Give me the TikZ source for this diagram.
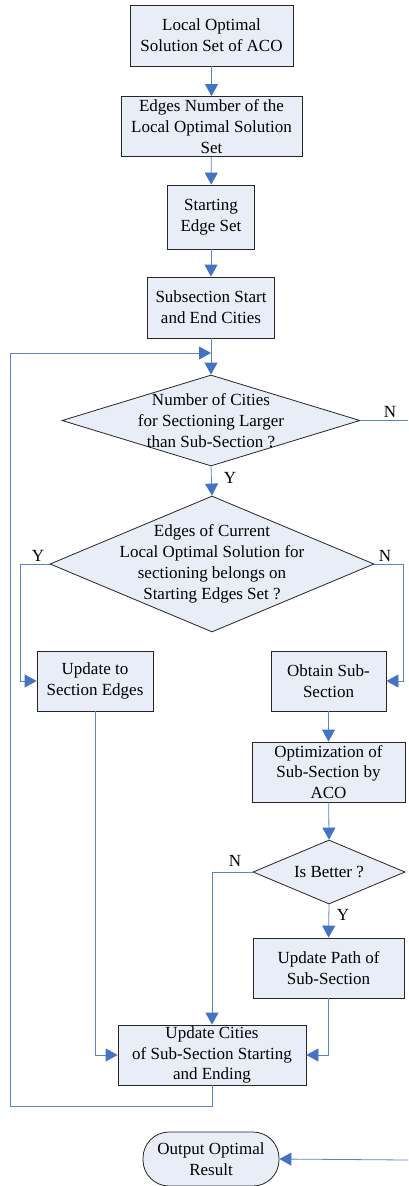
\documentclass[tikz,border=0pt]{standalone}
\usepackage{fontspec}
\setmainfont{Liberation Serif}
\usetikzlibrary{arrows.meta,shapes.geometric}
\definecolor{boxfill}{HTML}{E8EDF8}
\definecolor{lineblue}{HTML}{5B86C5}
\definecolor{tipblue}{HTML}{4472C4}
\tikzset{
  base/.style={draw=black!85,line width=0.8pt,fill=boxfill,inner sep=0pt,
    font=\fontsize{17}{20.8}\selectfont,align=center},
  procbox/.style={base,rectangle},
  dia/.style={base,diamond,aspect=1},
  term/.style={base,rectangle,rounded corners=26pt},
  txt/.style={inner sep=0pt,font=\fontsize{17}{20.8}\selectfont,align=center},
  lbl/.style={inner sep=0pt,font=\fontsize{17}{20}\selectfont},
  conn/.style={draw=lineblue,line width=0.8pt},
  arr/.style={conn,-{Triangle[width=13pt,length=12pt,color=tipblue]}},
}
\begin{document}
\begin{tikzpicture}[x=1pt,y=-1pt]
\useasboundingbox (0,0) rectangle (408,1186);
\node[procbox,minimum width=163pt,minimum height=61pt] (b1) at (211.5,35.5) {Local Optimal\\Solution Set of ACO};
\node[procbox,minimum width=181pt,minimum height=60pt] (b2) at (211.5,126.5) {Edges Number of the\\Local Optimal Solution\\Set};
\node[procbox,minimum width=87pt,minimum height=64pt] (b3) at (211,217) {Starting\\Edge Set};
\node[procbox,minimum width=127pt,minimum height=61pt] (b4) at (211,307.5) {Subsection Start\\and End Cities};
\node[dia,minimum width=298pt,minimum height=91pt] (d1) at (211,420.5) {};
\node[txt] (t1) at (d1.center) {Number of Cities\\for Sectioning Larger\\than Sub-Section ?};
\node[dia,minimum width=324pt,minimum height=136pt] (d2) at (212,564) {};
\node[txt] (t2) at (d2.center) {Edges of Current\\Local Optimal Solution for\\sectioning belongs on\\Starting Edges Set ?};
\node[procbox,minimum width=116pt,minimum height=60pt] (b5) at (95,681) {Update to\\Section Edges};
\node[procbox,minimum width=115pt,minimum height=60pt] (b6) at (328.5,681) {Obtain Sub-\\Section};
\node[procbox,minimum width=153pt,minimum height=60pt] (b7) at (328.5,772) {Optimization of\\Sub-Section by\\ACO};
\node[dia,minimum width=152pt,minimum height=64pt] (d3) at (329,872) {};
\node[txt] (t3) at (d3.center) {Is Better ?};
\node[procbox,minimum width=151pt,minimum height=60pt] (b9) at (328.5,968) {Update Path of\\Sub-Section};
\node[procbox,minimum width=188pt,minimum height=60pt] (b8) at (212,1055) {Update Cities\\of Sub-Section Starting\\and Ending};
\node[term,minimum width=136pt,minimum height=54pt] (out) at (211,1159) {Output Optimal\\Result};

\coordinate (m1) at (211,353);
\coordinate (loopB) at (10,1106);
\coordinate (loopT) at (10,353);
\coordinate (nEnd) at (408,420.5);
\coordinate (oStart) at (408,1160);

\draw[arr] (b1) -- (b2);
\draw[arr] (b2) -- (b3);
\draw[arr] (b3) -- (b4);
\draw[arr] (b4) -- (d1.north);
\draw[conn] (d1.east) -- (nEnd);
\draw[arr] (d1.south) -- (d2.north);
\draw[arr] (d2.west) -- ++(-29,0) |- (b5.west);
\draw[arr] (d2.east) -- ++(29,0) |- (b6.east);
\draw[arr] (b6) -- (b7);
\draw[arr] (b7) -- (d3.north);
\draw[arr] (d3.west) -| (b8.north);
\draw[arr] (d3.south) -- (b9.north);
\draw[arr] (b5.south) |- (b8.west);
\draw[arr] (b9.south) |- (b8.east);
\draw[arr] (b8.south) |- (loopB) -- (loopT) -- (m1);
\draw[arr] (oStart) -- (out.east);

\node[lbl] (l1) at (390,412) {N};
\node[lbl] (l2) at (230,478) {Y};
\node[lbl] (l3) at (38,556) {Y};
\node[lbl] (l4) at (385,556) {N};
\node[lbl] (l5) at (235,861) {N};
\node[lbl] (l6) at (343,915) {Y};
\end{tikzpicture}
\end{document}
